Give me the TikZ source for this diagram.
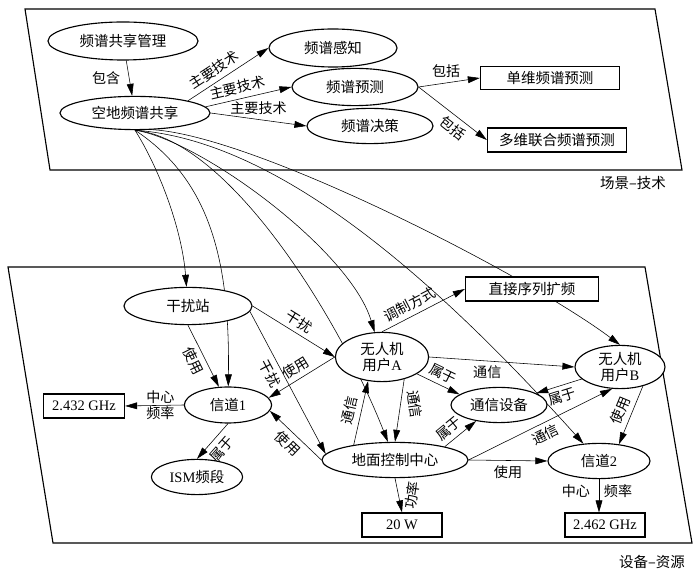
\documentclass[tikz,border=0pt]{standalone}
\usepackage{fontspec}
\setmainfont{Liberation Serif}
\newfontfamily\cjk{Noto Sans CJK SC}
\usetikzlibrary{arrows.meta,shapes.geometric,backgrounds}
\newcommand\lat[1]{{\rmfamily #1}}
\newcommand\nodefont{\cjk\fontsize{10.3}{11.5}\selectfont}
\newcommand\labfont{\cjk\fontsize{10}{11}\selectfont}

\begin{document}
\begin{tikzpicture}[-,>={Triangle[length=3mm,width=1.7mm]},thick,
                    x=0.025cm,y=-0.025cm,
                    main node/.style={ellipse,draw,fill=white,inner sep=0pt,font=\nodefont},
                    box node/.style={rectangle,draw,fill=white,inner sep=0pt,font=\nodefont}]
  \useasboundingbox (0,0) rectangle (700,576);
  %panels%
  \draw (25,9) -- (655,9) -- (682,170) -- (50,170) -- cycle;
  \draw (8,267) -- (645,267) -- (692,543) -- (53,543) -- cycle;
  \node[font=\nodefont] (p1) at (633,183) {场景–技术};
  \node[font=\nodefont] (p2) at (652,562) {设备–资源};

  %scene-technique%
  \node[main node,minimum width=3.75cm,minimum height=0.95cm] (1) at (123,41) {频谱共享管理};
  \node[main node,minimum width=3.75cm,minimum height=0.83cm] (2) at (135,113) {空地频谱共享};
  \node[main node,minimum width=3.2cm,minimum height=0.95cm] (3) at (333,48) {频谱感知};
  \node[main node,minimum width=3.15cm,minimum height=0.93cm] (4) at (355,87) {频谱预测};
  \node[main node,minimum width=3.15cm,minimum height=0.88cm] (5) at (370,126) {频谱决策};
  \node[box node,minimum width=3.48cm,minimum height=0.58cm] (6) at (550,78) {单维频谱预测};
  \node[box node,minimum width=3.48cm,minimum height=0.6cm] (7) at (557,140) {多维联合频谱预测};

  %device-resource%
  \node[main node,minimum width=3.2cm,minimum height=0.93cm] (8) at (188,306) {干扰站};
  \node[main node,minimum width=2.18cm,minimum height=0.9cm] (9) at (228,405) {信道\lat{1}};
  \node[box node,minimum width=2.03cm,minimum height=0.6cm] (10) at (84,406) {\lat{2.432 GHz}};
  \node[main node,minimum width=2.28cm,minimum height=0.88cm] (11) at (197,477) {\lat{ISM}频段};
  \node[main node,align=center,minimum width=2.33cm,minimum height=1.23cm] (12) at (382,357) {无人机\\用户\lat{A}};
  \node[box node,minimum width=3.33cm,minimum height=0.6cm] (13) at (532,289) {直接序列扩频};
  \node[main node,align=center,minimum width=2.25cm,minimum height=1.08cm] (14) at (620,367) {无人机\\用户\lat{B}};
  \node[main node,minimum width=2.4cm,minimum height=0.88cm] (15) at (499,405) {通信设备};
  \node[box node,minimum width=2cm,minimum height=0.6cm] (16) at (402,525) {\lat{20 W}};
  \node[box node,minimum width=2cm,minimum height=0.6cm] (17) at (605,525) {\lat{2.462 GHz}};
  \node[main node,minimum width=2.55cm,minimum height=0.88cm] (18) at (599,461) {信道\lat{2}};
  \node[main node,minimum width=3.65cm,minimum height=0.88cm] (19) at (395,460) {地面控制中心};

  \begin{scope}[on background layer]
  \path[->,every node/.style={font=\labfont}]
    (1) edge node [left,xshift=-0.1cm] {包含} (2)
    (2.13) edge node [pos=.4,sloped,above] {主要技术} (3.west)
    (2.5) edge node [pos=.4,sloped,above] {主要技术} (4.west)
    (2.east) edge node [above] {主要技术} (5.west)
    (4.east) edge node [pos=.45,above] {包括} (6.west)
    (4.east) edge node [pos=.6,sloped,below] {包括} (7.west);

  %links between the two planes%
  \draw[->] (2.south) .. controls (160,170) and (182,230) .. (8);
  \draw[->] (2.south) .. controls (210,180) and (230,260) .. (9);
  \draw[->] (2.south) .. controls (230,140) and (340,320) .. (19);
  \draw[->] (2.south) .. controls (200,140) and (350,250) .. (12);
  \draw[->] (2.south) .. controls (270,140) and (420,262) .. (18);
  \draw[->] (2.south) .. controls (220,118) and (520,270) .. (14.north);

  \path[->,every node/.style={font=\labfont}]
    (8.east) edge node [sloped,above] {干扰} (12.west)
    (8.south) edge node [sloped,below] {使用} (9)
    (8.-5) edge node [pos=.4,sloped,below] {干扰} (19.175)
    (12.west) edge node [sloped,above] {使用} (9.10)
    (19.west) edge node [sloped,below] {使用} (9.-8)
    (9.west) edge node [pos=.4,above,inner sep=1pt] {中心}
                  node [pos=.4,below,inner sep=1pt] {频率} (10.east)
    (9.south) edge node [sloped,below,inner sep=4pt] {属于} (11.north)
    (12.north) edge node [pos=.4,sloped,above] {调制方式} (13.west)
    (12.east) edge node [pos=.4,below] {通信} (14.west)
    (12) edge node [sloped,above] {属于} (15.165)
    (14) edge node [sloped,below] {属于} (15)
    (12.-45) edge node [pos=.4,xshift=0.35cm,rotate=-82] {通信} (19.north)
    (19.160) edge node [sloped,above] {通信} (12.-120)
    (19.15) edge node [pos=.35,sloped,above] {属于} (15.-145)
    (19.east) edge node [sloped,below] {通信} (14.-110)
    (19.east) edge node [below] {使用} (18.west)
    (14.-40) edge node [sloped,above] {使用} (18.40)
    (19.south) edge node [xshift=0.35cm,rotate=82] {功率} (16.north)
    (18.south) edge node [pos=.35,left,xshift=-0.1cm] {中心}
                    node [pos=.35,right] {频率} (17.north -| 18.south);
  \end{scope}
\end{tikzpicture}
\end{document}
